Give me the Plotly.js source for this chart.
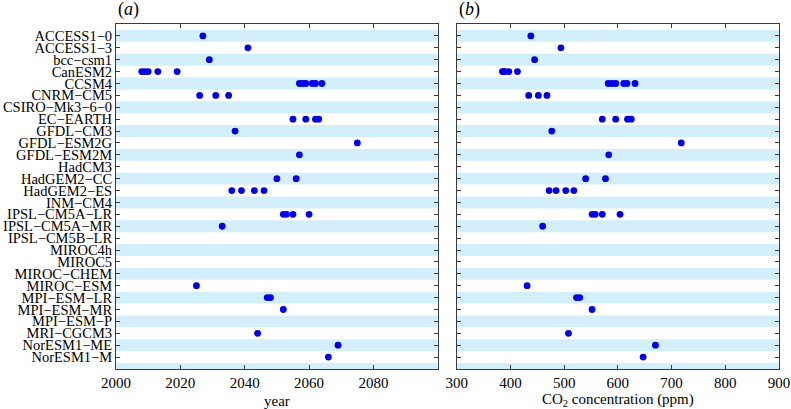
<!DOCTYPE html>
<html>
<head>
<meta charset="utf-8">
<script src="https://cdn.plot.ly/plotly-3.0.1.min.js"></script>
<style>html,body{margin:0;padding:0;background:#fff;}#chart{width:791px;height:409px;}</style>
</head>
<body>
<div id="chart"></div>
<script>
// Model names (top to bottom)
const models = [
  "ACCESS1−0","ACCESS1−3","bcc−csm1","CanESM2","CCSM4","CNRM−CM5","CSIRO−Mk3−6−0",
  "EC−EARTH","GFDL−CM3","GFDL−ESM2G","GFDL−ESM2M","HadCM3","HadGEM2−CC","HadGEM2−ES",
  "INM−CM4","IPSL−CM5A−LR","IPSL−CM5A−MR","IPSL−CM5B−LR","MIROC4h","MIROC5","MIROC−CHEM",
  "MIROC−ESM","MPI−ESM−LR","MPI−ESM−MR","MPI−ESM−P","MRI−CGCM3","NorESM1−ME","NorESM1−M"
];
// panel (a): year per model (one entry per dot)
const years = [
  [2027],[2041],[2029],[2008,2009,2010,2013,2019],[2057,2058,2059,2061,2062,2064],
  [2026,2031,2035],[],[2055,2059,2062,2063],[2037],[2075],[2057],[],[2050,2056],
  [2036,2039,2043,2046],[],[2052,2053,2055,2060],[2033],[],[],[],[],
  [2025],[2047,2048],[2052],[],[2044],[2069],[2066]
];
// panel (b): CO2 concentration (ppm) per model
const co2 = [
  [438],[494],[445],[385,387,390,397,413],[582,589,596,611,617,632],
  [434,452,468],[],[571,596,618,625],[477],[718],[583],[],[540,577],
  [472,485,503,518],[],[552,558,571,604],[460],[],[],[],[],
  [431],[523,529],[552],[],[508],[670],[647]
];
const yearTicks = [2000,2020,2040,2060,2080];
const co2Ticks = [300,400,500,600,700,800,900];

function flatten(vals){
  const x=[], y=[];
  vals.forEach((arr,i)=>arr.forEach(v=>{x.push(v); y.push(i+1);}));
  return {x,y};
}
const a = flatten(years), b = flatten(co2);
const dotColor = 'rgb(0,0,235)';
const traces = [
  {x:a.x, y:a.y, xaxis:'x', yaxis:'y', mode:'markers', type:'scatter',
   marker:{color:dotColor, size:6.8}, hoverinfo:'skip', showlegend:false},
  {x:b.x, y:b.y, xaxis:'x2', yaxis:'y2', mode:'markers', type:'scatter',
   marker:{color:dotColor, size:6.8}, hoverinfo:'skip', showlegend:false}
];

const nRows = models.length;
const yTop = 0, yBot = nRows + 1;
const shapes = [];
['x','x2'].forEach((xa,j)=>{
  const ya = j===0?'y':'y2';
  for(let k=0;k<=nRows;k+=2){
    shapes.push({type:'rect', xref:xa+' domain', yref:ya, x0:0, x1:1,
      y0:k+0.5, y1:Math.min(k+1.5, yBot), fillcolor:'#d3effb', line:{width:0}, layer:'below'});
  }
});

const axLine = '#3a3a3a';
const fam = '"Liberation Serif", "Times New Roman", serif';
const font = {family:fam, size:15, color:'#000'};
const yfont = {family:fam, size:14.5, color:'#000'};
const common = {showline:true, linecolor:axLine, linewidth:1, mirror:'ticks', ticks:'inside',
  ticklen:4, tickcolor:axLine, showgrid:false, zeroline:false, tickfont:font};
const tickY = models.map((m,i)=>i+1);

const layout = {
  width:791, height:409,
  margin:{l:116, r:12, t:24, b:40},
  paper_bgcolor:'#fff', plot_bgcolor:'#fff',
  font:font,
  xaxis:Object.assign({}, common, {domain:[0,0.4853], range:[2000,2100], tickvals:yearTicks,
    title:{text:'year', font:font, standoff:5}, anchor:'y'}),
  yaxis:Object.assign({}, common, {range:[yBot,yTop], tickvals:tickY, ticktext:models, tickfont:yfont, anchor:'x'}),
  xaxis2:Object.assign({}, common, {domain:[0.5139,1], range:[300,900], tickvals:co2Ticks,
    title:{text:'CO<sub>2</sub> concentration (ppm)', font:font, standoff:3}, anchor:'y2'}),
  yaxis2:Object.assign({}, common, {range:[yBot,yTop], tickvals:tickY, showticklabels:false, anchor:'x2'}),
  shapes:shapes,
  annotations:[
    {xref:'paper', yref:'paper', x:0, y:1, xanchor:'left', yanchor:'bottom', yshift:2,
     text:'(<i>a</i>)', showarrow:false, font:{family:fam, size:18, color:'#000'}},
    {xref:'paper', yref:'paper', x:0.5139, y:1, xanchor:'left', yanchor:'bottom', yshift:2,
     text:'(<i>b</i>)', showarrow:false, font:{family:fam, size:18, color:'#000'}}
  ]
};
Plotly.newPlot('chart', traces, layout, {displayModeBar:false, staticPlot:true});
</script>
</body>
</html>
